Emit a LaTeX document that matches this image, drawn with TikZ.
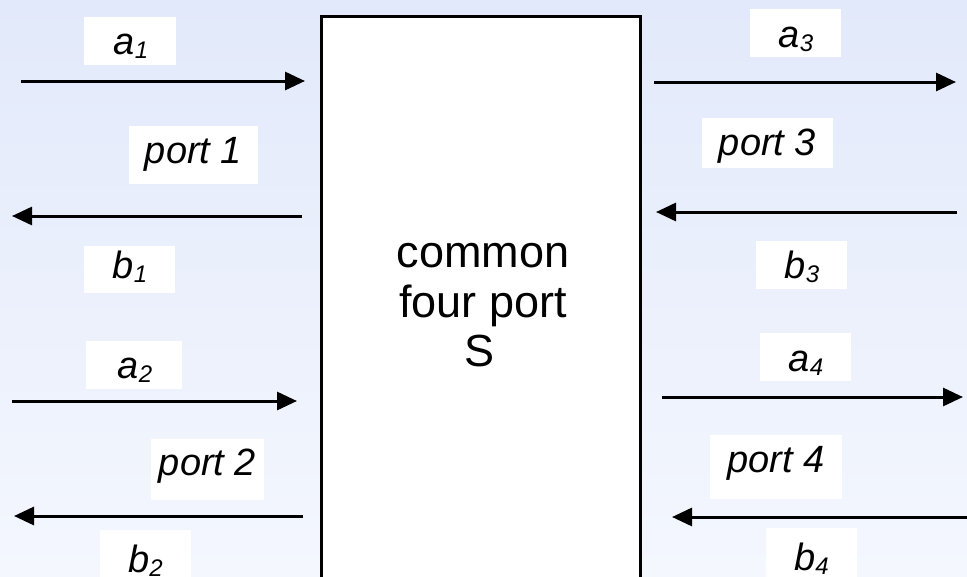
\documentclass[tikz,border=0pt]{standalone}
\usepackage{fontspec}
\setmainfont{Liberation Sans}
\usetikzlibrary{arrows.meta}

% subscript index of a wave quantity
\newcommand{\wsub}[1]{\raisebox{-4pt}{\fontsize{24}{24}\selectfont #1}}

\definecolor{bgtop}{RGB}{226,233,250}
\definecolor{bgbot}{RGB}{244,247,254}

\tikzset{
  lblbox/.style={fill=white, inner sep=0pt},
  lbltext/.style={anchor=base, inner sep=0pt, font=\fontsize{38}{44}\selectfont\itshape},
  boxtext/.style={anchor=base, inner sep=0pt, font=\fontsize{45}{50}\selectfont},
  wave/.style={line width=3pt, -{Triangle[length=20pt,width=18pt]}},
}

\begin{document}
\begin{tikzpicture}[x=1pt, y=-1pt]
\useasboundingbox (0,0) rectangle (967,576);
\clip (0,0) rectangle (967,576);

% background
\shade[top color=bgtop, bottom color=bgbot] (0,0) rectangle (967,576);

% the four-port block
\node[draw, line width=2.5pt, fill=white, inner sep=0pt, anchor=north west,
      minimum width=319pt, minimum height=600pt] (S) at (320,15) {};
\node[boxtext] (t1) at (483,267) {common};
\node[boxtext] (t2) at (483,317) {four port};
\node[boxtext] (t3) at (480,366) {S};

% ---- left side: ports 1 and 2 ----
\node[lblbox, minimum width=92pt,  minimum height=48pt] (a1box) at (130,41) {};
\node[lbltext] (a1) at (131,54) {a\wsub{1}};
\coordinate (a1s) at (21,81);  \coordinate (a1e) at (305,81);
\draw[wave] (a1s) -- (a1e);

\node[lblbox, minimum width=129pt, minimum height=58pt] (p1box) at (193.5,155) {};
\node[lbltext] (p1) at (193.5,163) {port 1};

\coordinate (b1s) at (302,216); \coordinate (b1e) at (12,216);
\draw[wave] (b1s) -- (b1e);
\node[lblbox, minimum width=91pt,  minimum height=47pt] (b1box) at (129.5,269.5) {};
\node[lbltext] (b1) at (130,278) {b\wsub{1}};

\node[lblbox, minimum width=96pt,  minimum height=48pt] (a2box) at (134,365) {};
\node[lbltext] (a2) at (135,378) {a\wsub{2}};
\coordinate (a2s) at (12,401); \coordinate (a2e) at (297,401);
\draw[wave] (a2s) -- (a2e);

\node[lblbox, minimum width=113pt, minimum height=61pt] (p2box) at (207.5,469.5) {};
\node[lbltext] (p2) at (207.5,475) {port 2};

\coordinate (b2s) at (303,516); \coordinate (b2e) at (14,516);
\draw[wave] (b2s) -- (b2e);
\node[lblbox, minimum width=91pt,  minimum height=60pt] (b2box) at (145.5,560) {};
\node[lbltext] (b2) at (145.5,572) {b\wsub{2}};

% ---- right side: ports 3 and 4 ----
\node[lblbox, minimum width=91pt,  minimum height=48pt] (a3box) at (795.5,33) {};
\node[lbltext] (a3) at (796,47) {a\wsub{3}};
\coordinate (a3s) at (654,82); \coordinate (a3e) at (956,82);
\draw[wave] (a3s) -- (a3e);

\node[lblbox, minimum width=131pt, minimum height=50pt] (p3box) at (767.5,143) {};
\node[lbltext] (p3) at (767.5,155) {port 3};

\coordinate (b3s) at (957,212); \coordinate (b3e) at (656,212);
\draw[wave] (b3s) -- (b3e);
\node[lblbox, minimum width=91pt,  minimum height=48pt] (b3box) at (801.5,265) {};
\node[lbltext] (b3) at (802,278) {b\wsub{3}};

\node[lblbox, minimum width=91pt,  minimum height=48pt] (a4box) at (805.5,357) {};
\node[lbltext] (a4) at (806,371) {a\wsub{4}};
\coordinate (a4s) at (662,397); \coordinate (a4e) at (963,397);
\draw[wave] (a4s) -- (a4e);

\node[lblbox, minimum width=132pt, minimum height=64pt] (p4box) at (776,467) {};
\node[lbltext] (p4) at (776,472) {port 4};

\coordinate (b4s) at (970,517); \coordinate (b4e) at (672,517);
\draw[wave] (b4s) -- (b4e);
\node[lblbox, minimum width=91pt,  minimum height=60pt] (b4box) at (811.5,558) {};
\node[lbltext] (b4) at (811.5,570) {b\wsub{4}};
\end{tikzpicture}
\end{document}
